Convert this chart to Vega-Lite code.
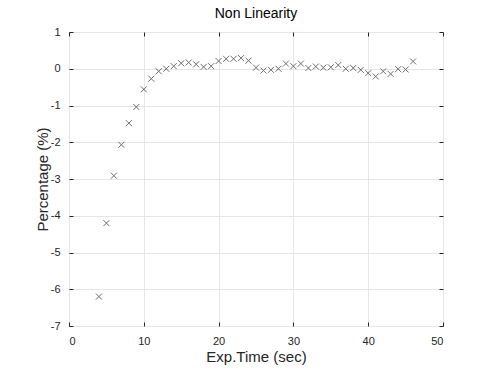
{
  "$schema": "https://vega.github.io/schema/vega-lite/v6.json",
  "autosize": "none",
  "width": 374,
  "height": 294,
  "padding": {"left": 69, "top": 32, "right": 37, "bottom": 51},
  "background": "white",
  "title": {"text": "Non Linearity", "font": "Liberation Sans", "fontSize": 14, "fontWeight": "normal", "color": "#000000", "offset": 5},
  "config": {
    "view": {"stroke": "#808080", "strokeWidth": 1},
    "axis": {"labelFont": "Liberation Sans", "titleFont": "Liberation Sans", "labelColor": "#262626", "titleColor": "#262626", "labelFontSize": 11, "titleFontSize": 15, "titleFontWeight": "normal", "domain": false, "tickColor": "#262626", "gridColor": "#e6e6e6"}
  },
  "data": {"values": [
    {"t": 4, "p": -6.2}, {"t": 5, "p": -4.2}, {"t": 6, "p": -2.91}, {"t": 7, "p": -2.07},
    {"t": 8, "p": -1.48}, {"t": 9, "p": -1.04}, {"t": 10, "p": -0.56}, {"t": 11, "p": -0.27},
    {"t": 12, "p": -0.07}, {"t": 13, "p": 0.0}, {"t": 14, "p": 0.07}, {"t": 15, "p": 0.15},
    {"t": 16, "p": 0.17}, {"t": 17, "p": 0.12}, {"t": 18, "p": 0.05}, {"t": 19, "p": 0.07},
    {"t": 20, "p": 0.21}, {"t": 21, "p": 0.27}, {"t": 22, "p": 0.27}, {"t": 23, "p": 0.29},
    {"t": 24, "p": 0.22}, {"t": 25, "p": 0.03}, {"t": 26, "p": -0.05}, {"t": 27, "p": -0.03},
    {"t": 28, "p": 0.0}, {"t": 29, "p": 0.14}, {"t": 30, "p": 0.07}, {"t": 31, "p": 0.14},
    {"t": 32, "p": 0.02}, {"t": 33, "p": 0.06}, {"t": 34, "p": 0.03}, {"t": 35, "p": 0.04},
    {"t": 36, "p": 0.1}, {"t": 37, "p": 0.0}, {"t": 38, "p": 0.02}, {"t": 39, "p": -0.03},
    {"t": 40, "p": -0.12}, {"t": 41, "p": -0.21}, {"t": 42, "p": -0.07}, {"t": 43, "p": -0.14},
    {"t": 44, "p": -0.01}, {"t": 45, "p": -0.02}, {"t": 46, "p": 0.2}
  ]},
  "layer": [
    {
      "mark": {"type": "point", "shape": "M-1,-1L1,1M-1,1L1,-1", "size": 36, "strokeWidth": 1, "color": "#333333", "filled": false},
      "encoding": {
        "x": {"field": "t", "type": "quantitative", "scale": {"domain": [0, 50], "nice": false, "zero": false},
              "axis": {"title": "Exp.Time (sec)", "values": [0, 10, 20, 30, 40, 50], "tickSize": -4, "labelPadding": 13, "titlePadding": 3}},
        "y": {"field": "p", "type": "quantitative", "scale": {"domain": [-7, 1], "nice": false, "zero": false},
              "axis": {"title": "Percentage (%)", "values": [-7, -6, -5, -4, -3, -2, -1, 0, 1], "labelExpr": "'' + datum.value", "tickSize": -4, "labelPadding": 13, "titlePadding": 0}}
      }
    },
    {
      "mark": {"type": "point", "opacity": 0},
      "encoding": {
        "x": {"field": "t", "type": "quantitative", "scale": {"domain": [0, 50], "nice": false, "zero": false},
              "axis": {"orient": "top", "title": null, "labels": false, "grid": false, "tickSize": -4, "values": [0, 10, 20, 30, 40, 50]}},
        "y": {"field": "p", "type": "quantitative", "scale": {"domain": [-7, 1], "nice": false, "zero": false},
              "axis": {"orient": "right", "title": null, "labels": false, "grid": false, "tickSize": -4, "values": [-7, -6, -5, -4, -3, -2, -1, 0, 1]}}
      }
    }
  ],
  "resolve": {"axis": {"x": "independent", "y": "independent"}}
}
